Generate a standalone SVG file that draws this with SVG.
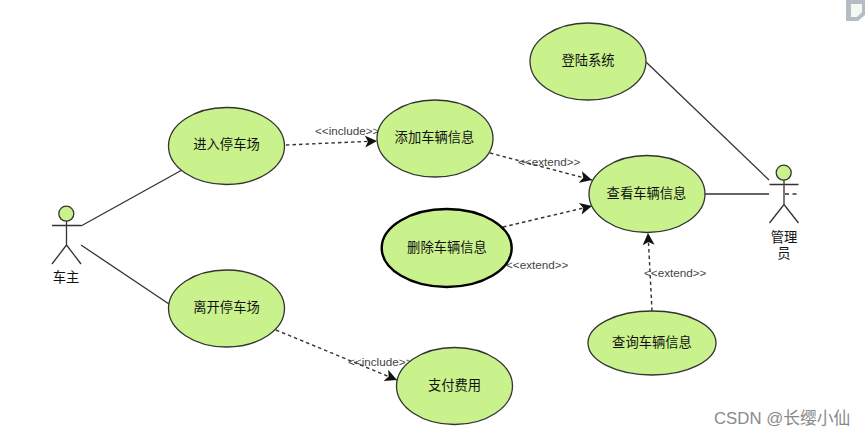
<svg xmlns="http://www.w3.org/2000/svg" width="865" height="436" viewBox="0 0 865 436">
<style>
text{font-family:"Noto Sans CJK SC","Liberation Sans",sans-serif;text-anchor:middle;fill:#111}
.uc{fill:#c9f28d;stroke:#333;stroke-width:1.3}
.n{font-size:13.300px}
.lb{font-family:"Liberation Sans","Noto Sans CJK SC",sans-serif;font-size:11.700px;fill:#444;text-anchor:start}
.s{fill:none;stroke:#333;stroke-width:1.3}
.d{fill:none;stroke:#333;stroke-width:1.4;stroke-dasharray:3.5 3}
.a{fill:none;stroke:#333;stroke-width:1.3}
.wm{font-family:"Liberation Sans","Noto Sans CJK SC",sans-serif;font-size:16.800px;fill:#8a8a8a;text-anchor:start}
</style>
<defs>
<marker id="ah" markerUnits="userSpaceOnUse" markerWidth="14" markerHeight="14" refX="12" refY="7" orient="auto">
<path d="M0 1 L12 7 L0 13 L3 7 Z" fill="#111"/>
</marker>
</defs>
<rect width="865" height="436" fill="#fff"/>
<path d="M846 0H865V15L858 21H846Z" fill="#b4bcc4"/>
<path d="M851 4H862V12L857 17H851Z" fill="#f4f8f4"/>
<g id="connectors">
<line class="s" x1="81" y1="226" x2="182" y2="170"/>
<line class="s" x1="81" y1="245" x2="169" y2="304"/>
<line class="s" x1="646" y1="62" x2="769" y2="180"/>
<line class="s" x1="705" y1="194" x2="769" y2="194"/>
<line class="d" x1="286" y1="145" x2="377" y2="141" marker-end="url(#ah)"/>
<line class="d" x1="490" y1="153" x2="592" y2="180" marker-end="url(#ah)"/>
<line class="d" x1="503" y1="227" x2="592" y2="206" marker-end="url(#ah)"/>
<line class="d" x1="652" y1="311" x2="648" y2="233" marker-end="url(#ah)"/>
<line class="d" x1="276" y1="330" x2="397" y2="380" marker-end="url(#ah)"/>
<text class="lb" x="315" y="135">&lt;&lt;include&gt;&gt;</text>
<text class="lb" x="518" y="166">&lt;&lt;extend&gt;&gt;</text>
<text class="lb" x="506" y="269">&lt;&lt;extend&gt;&gt;</text>
<text class="lb" x="644" y="277">&lt;&lt;extend&gt;&gt;</text>
<text class="lb" x="348" y="366">&lt;&lt;include&gt;&gt;</text>
</g>
<g id="uc-enter"><ellipse class="uc" cx="226.5" cy="146" rx="58" ry="38.5"/><text class="n" x="226.5" y="149">进入停车场</text></g>
<g id="uc-leave"><ellipse class="uc" cx="226.5" cy="308.5" rx="58" ry="38.5"/><text class="n" x="226.5" y="312">离开停车场</text></g>
<g id="uc-add"><ellipse class="uc" cx="435" cy="138.5" rx="58" ry="38.5"/><text class="n" x="434.500" y="142">添加车辆信息</text></g>
<g id="uc-delete"><ellipse class="uc" style="stroke:#000;stroke-width:2.4" cx="446.7" cy="248" rx="65" ry="39"/><text class="n" x="447" y="252">删除车辆信息</text></g>
<g id="uc-view"><ellipse class="uc" cx="647" cy="194" rx="58" ry="38.5"/><text class="n" x="646.500" y="198">查看车辆信息</text></g>
<g id="uc-login"><ellipse class="uc" cx="588" cy="61.5" rx="58" ry="38.5"/><text class="n" x="588" y="65">登陆系统</text></g>
<g id="uc-query"><ellipse class="uc" cx="652" cy="343" rx="64" ry="32"/><text class="n" x="652" y="346.500">查询车辆信息</text></g>
<g id="uc-pay"><ellipse class="uc" cx="454.5" cy="386" rx="58" ry="38.5"/><text class="n" x="454.500" y="389.500">支付费用</text></g>
<g id="actor-owner">
<circle class="uc" cx="66.300" cy="213.700" r="7.500"/>
<path class="a" d="M52 225.500H81M66.500 221V245M66.500 245L52 264M66.500 245L81 264"/>
<text class="n" x="66" y="282">车主</text>
</g>
<g id="actor-admin">
<circle class="uc" cx="783.700" cy="172.700" r="7.500"/>
<path class="a" d="M769.500 184.500H798.500M784 180V204.500M784 204.500L769.500 223M784 204.500L798.500 223"/>
<line class="a" stroke-dasharray="4 3.500" x1="785" y1="194" x2="799" y2="194"/>
<text class="n" x="784" y="242">管理<tspan x="784" dy="16">员</tspan></text>
</g>
<text class="wm" x="714" y="424">CSDN @长缨小仙</text>
</svg>
